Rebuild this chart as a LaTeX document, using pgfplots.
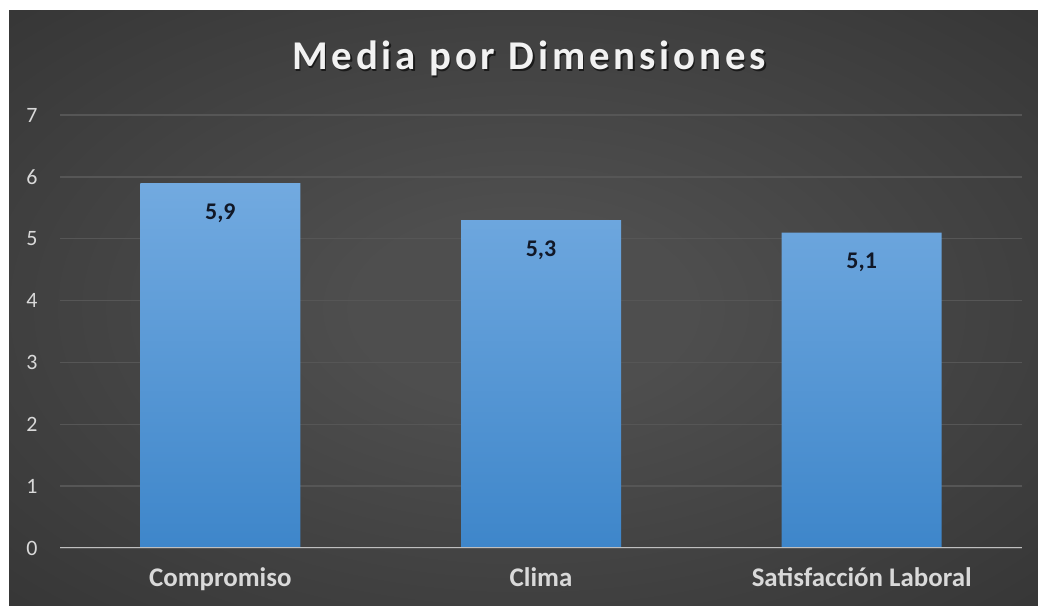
\documentclass[border=0pt]{standalone}
\usepackage{fontspec}
\setmainfont{Carlito}
\newfontfamily\titlefont[LetterSpace=9.5]{Carlito}
\usepackage{pgfplots}
\pgfplotsset{compat=1.18}
\definecolor{bgin}{HTML}{4E4E4E}
\definecolor{bgout}{HTML}{252525}
\definecolor{gridc}{HTML}{565656}
\definecolor{axisc}{HTML}{BFBFBF}
\definecolor{bartop}{HTML}{72AAE0}
\definecolor{barbot}{HTML}{3E86CA}
\definecolor{labc}{HTML}{D9D9D9}
\definecolor{titc}{HTML}{F2F2F2}
\definecolor{datac}{HTML}{111827}
\pgfdeclareradialshading{bgshade}{\pgfpoint{0bp}{0bp}}{color(0bp)=(bgin); color(8bp)=(bgin); color(56bp)=(bgout); color(75bp)=(bgout)}
\begin{document}
\begin{tikzpicture}[x=1bp,y=1bp]
\fill[white] (0,0) rectangle (1038,606);
\shade[shading=bgshade] (9,0) rectangle (1038,595);
\path[use as bounding box] (0,0) rectangle (1038,606);
\node[anchor=base, text=black, opacity=0.6, font=\titlefont\bfseries\fontsize{41}{41}\selectfont] at (530.5,534.5) {Media por Dimensiones};
\node[anchor=base, text=titc, font=\titlefont\bfseries\fontsize{41}{41}\selectfont] at (529,536) {Media por Dimensiones};
\begin{axis}[
  at={(60bp,58bp)}, anchor=south west, scale only axis,
  width=962bp, height=433bp,
  xmin=-0.5, xmax=2.5, ymin=0, ymax=7,
  ytick={0,...,7}, xtick={0,1,2},
  xticklabels={Compromiso,Clima,Satisfacción Laboral},
  axis line style={draw=none},
  major tick length=0pt,
  ymajorgrids, grid style={draw=gridc, line width=1.5bp},
  /pgf/number format/assume math mode=true,
  yticklabel style={font=\fontsize{22}{22}\selectfont, text=labc, anchor=east, xshift=-19bp},
  xticklabel style={font=\bfseries\fontsize{27}{27}\selectfont, text=labc, anchor=base, yshift=-39bp},
  nodes near coords={\pgfmathprintnumber[use comma,fixed,fixed zerofill,precision=1]{\pgfplotspointmeta}},
  nodes near coords style={anchor=center, yshift=-30bp, font=\bfseries\fontsize{24}{24}\selectfont, text=datac},
]
\addplot[ybar, bar width=160bp, draw=none, top color=bartop, bottom color=barbot] coordinates {(0,5.9) (1,5.3) (2,5.1)};
\draw[axisc, line width=2bp] (axis cs:-0.5,0) -- (axis cs:2.5,0);
\end{axis}
\end{tikzpicture}
\end{document}
